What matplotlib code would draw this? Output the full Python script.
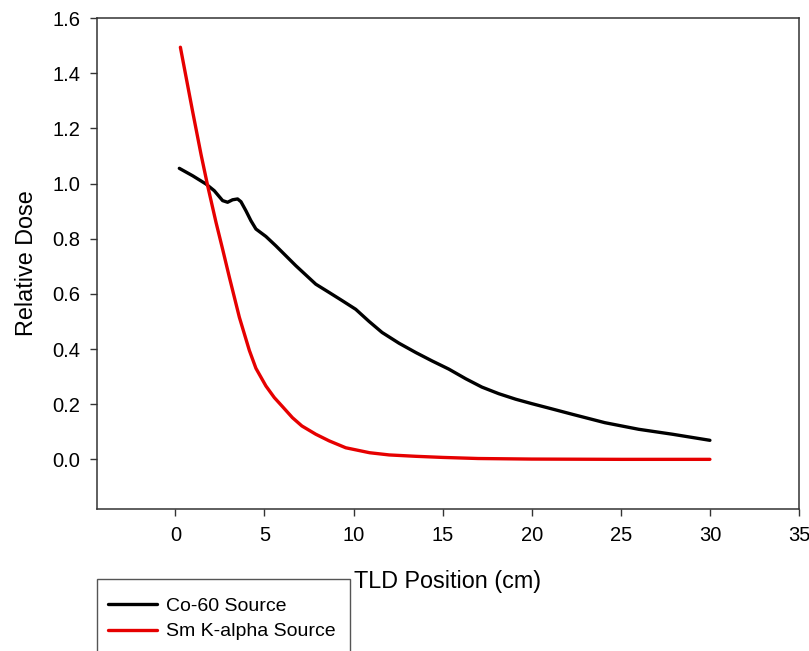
import matplotlib
matplotlib.use("Agg")
import matplotlib.pyplot as plt
from matplotlib.patches import Rectangle

# values
co60_x = [0.22, 0.97, 1.72, 2.18, 2.65, 2.93, 3.21, 3.49, 3.68, 3.96, 4.24, 4.52, 5.08,
          5.64, 6.76, 7.88, 8.63, 9.37, 10.12, 10.87, 11.6, 12.55, 13.5, 14.4, 15.35,
          16.3, 17.2, 18.15, 19.1, 20.0, 20.95, 22.3, 24.1, 26.0, 27.9, 30.0]
co60_y = [1.055, 1.028, 0.998, 0.974, 0.938, 0.932, 0.941, 0.944, 0.934, 0.901, 0.865,
          0.835, 0.808, 0.774, 0.702, 0.635, 0.605, 0.575, 0.544, 0.5, 0.46, 0.421,
          0.387, 0.357, 0.327, 0.292, 0.262, 0.238, 0.218, 0.202, 0.186, 0.163, 0.133,
          0.109, 0.091, 0.069]

sm_x = [0.28, 0.97, 1.44, 1.81, 2.28, 2.65, 3.03, 3.59, 4.15, 4.52, 5.08, 5.55, 6.0,
        6.57, 7.1, 7.88, 8.63, 9.56, 10.9, 12.0, 13.5, 15.0, 17.0, 20.0, 25.0, 30.0]
sm_y = [1.494, 1.26, 1.105, 0.992, 0.859, 0.762, 0.66, 0.515, 0.395, 0.33, 0.266, 0.224,
        0.192, 0.151, 0.121, 0.091, 0.067, 0.042, 0.024, 0.016, 0.011, 0.007, 0.003,
        0.001, 0.0, 0.0]

x_ticks = [0, 5, 10, 15, 20, 25, 30, 35]
y_ticks = [0.0, 0.2, 0.4, 0.6, 0.8, 1.0, 1.2, 1.4, 1.6]

plt.rcParams['font.family'] = ['Liberation Sans', 'DejaVu Sans']

W, H = 809, 651
fig = plt.figure(figsize=(W / 100, H / 100), dpi=100)
ax = fig.add_axes([97 / W, 1 - 509 / H, 702 / W, 491 / H])

ax.plot(co60_x, co60_y, color='black', lw=2.4, label='Co-60 Source',
        solid_joinstyle='round', solid_capstyle='round')
ax.plot(sm_x, sm_y, color='#e60000', lw=2.4, label='Sm K-alpha Source',
        solid_joinstyle='round', solid_capstyle='round')

ax.set_xlim(-4.4, 35)
ax.set_ylim(-0.18, 1.6)
ax.set_xticks(x_ticks)
ax.set_yticks(y_ticks)
ax.set_yticklabels([f"{v:.1f}" for v in y_ticks])
ax.tick_params(direction='out', length=5, width=1, labelsize=14.5, pad=7, color='#333333')

for s in ax.spines.values():
    s.set_linewidth(1.1)
    s.set_color('#333333')

ax.set_xlabel('TLD Position (cm)', fontsize=16.8, labelpad=18)
ax.set_ylabel('Relative Dose', fontsize=16.8, labelpad=10)

# legend box, running off the bottom edge as in the reference
fig.patches.append(Rectangle((97 / W, -0.05), 253 / W, 0.05 + (651 - 579) / H,
                             transform=fig.transFigure, fill=False,
                             edgecolor='#555555', lw=1.0))
fig.legend(loc='upper left', bbox_to_anchor=(108 / W, 1 - 597 / H),
           fontsize=14, frameon=False, borderaxespad=0, borderpad=0,
           handlelength=2.5, handletextpad=0.5, labelspacing=0.42)

fig.savefig('out.png', dpi=100)
